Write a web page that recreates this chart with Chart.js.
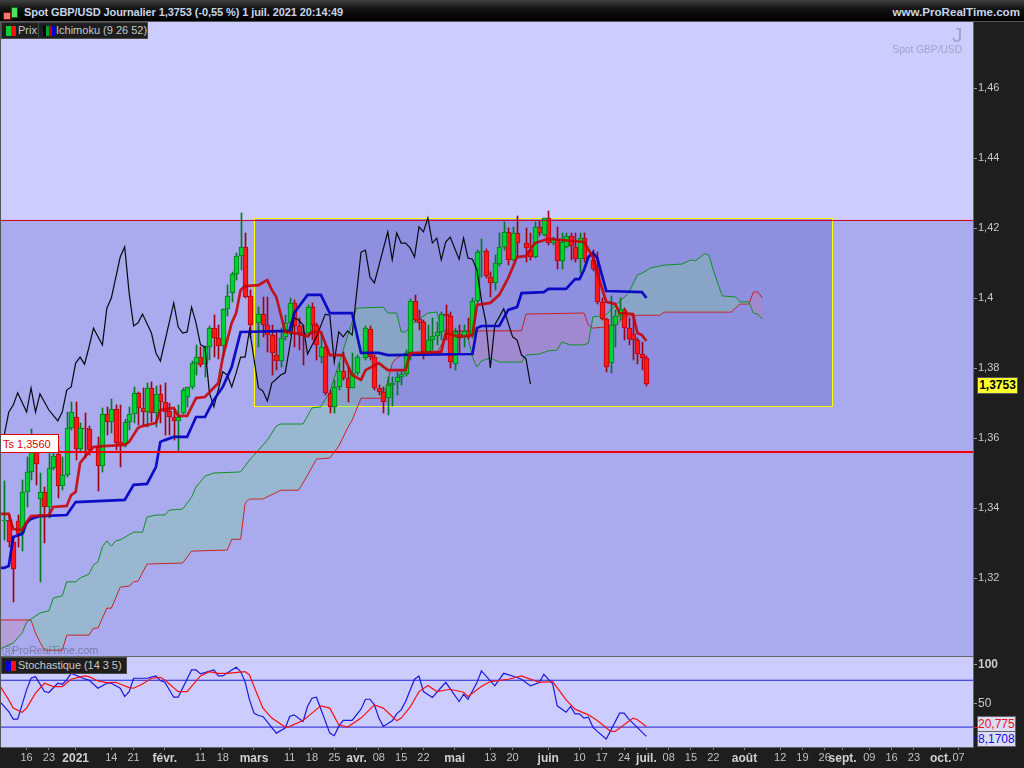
<!DOCTYPE html>
<html lang="fr">
<head>
<meta charset="utf-8">
<title>Spot GBP/USD</title>
<script src="https://cdn.jsdelivr.net/npm/chart.js@4/dist/chart.umd.js"></script>
<style>
    html, body { margin: 0; padding: 0; background: #1e1e1e; overflow: hidden; }
    body { width: 1024px; height: 768px; position: relative; font-family: "Liberation Sans", Arial, sans-serif; }
    canvas { position: absolute; left: 0; display: block; }
    #priceChart { top: 22px; }
    #stochChart { top: 657px; }
    .abs { position: absolute; white-space: nowrap; }
    #header { left: 0; top: 0; width: 1024px; height: 21px; border-bottom: 1px solid #555;
        background: linear-gradient(#404040, #111 45%, #000); }
    #title { left: 24px; top: 6px; font: bold 11px "Liberation Sans", Arial, sans-serif; color: #c6d6ea; letter-spacing: -.09px; }
    #site { right: 4px; top: 5px; font: bold 11.6px "Liberation Sans", Arial, sans-serif; color: #c6d6ea; }
    .tag { background: #1e1e1e; border: 1px solid #4a4a4a; color: #c8c8c8; font-size: 11px; line-height: 15px; height: 15px; box-sizing: content-box; }
    .sw { position: absolute; top: 3px; height: 10px; }
    .mark { color: #a3a3c6; }
    .val { left: 977px; width: 36px; text-align: right; font-size: 12px; line-height: 14px; height: 14px;
        border: 1px solid #666; background: #dcdcf4; padding-right: 1px; }
</style>
</head>
<body>
<canvas id="priceChart" width="1024" height="635"></canvas>
<canvas id="stochChart" width="1024" height="111"></canvas>

<div id="header" class="abs"></div>
<div class="abs" style="left:3px;top:12px;width:6px;height:6px;background:#f07878;border:1px solid #800"></div>
<div class="abs" style="left:11px;top:7px;width:5px;height:9px;background:#50e060;border:1px solid #060"></div>
<div id="title" class="abs">Spot GBP/USD Journalier 1,3753 (-0,55 %) 1 juil. 2021 20:14:49</div>
<div id="site" class="abs">www.ProRealTime.com</div>

<div class="abs tag" style="left:1px;top:22px;width:36px">
    <span class="sw" style="left:4px;width:5px;background:#00d030"></span>
    <span class="sw" style="left:9px;width:5px;background:#ff1010"></span>
    <span style="margin-left:16px">Prix</span>
</div>
<div class="abs tag" style="left:38px;top:22px;width:108px">
    <span class="sw" style="left:4px;width:3px;background:#000"></span>
    <span class="sw" style="left:7px;width:3px;background:#00a020"></span>
    <span class="sw" style="left:10px;width:3px;background:#c00000"></span>
    <span class="sw" style="left:13px;width:3px;background:#0000d0"></span>
    <span style="margin-left:17px">Ichimoku (9 26 52)</span>
</div>
<div class="abs mark" style="left:952px;top:24px;font-size:21px;line-height:22px">J</div>
<div class="abs mark" style="right:62px;top:44px;font-size:10.2px">Spot GBP/USD</div>

<div class="abs" style="left:0;top:434px;width:55px;height:17px;background:#fff;border:1px solid #e00000;color:#e00000;font-size:11px;line-height:18px;padding-left:2px">Ts 1,3560</div>
<div class="abs" style="left:977px;top:377px;width:39px;height:15px;background:#ffff30;border:1px solid #555;color:#000;font:bold 12px/15px 'Liberation Sans',Arial,sans-serif;text-align:center">1,3753</div>

<div class="abs" style="left:2px;top:644px;color:rgba(95,100,130,.65);font-size:11px">&#9415;</div>
<div class="abs" style="left:12px;top:644px;color:rgba(95,100,130,.65);font-size:11px;letter-spacing:-.08px">ProRealTime.com</div>
<div class="abs" style="left:1px;top:656px;width:972px;height:1px;background:#666"></div>
<div class="abs tag" style="left:1px;top:657px;width:124px">
    <span class="sw" style="left:4px;width:5px;background:#0000e0"></span>
    <span class="sw" style="left:9px;width:5px;background:#ff1010"></span>
    <span style="margin-left:16px;letter-spacing:-.05px">Stochastique (14 3 5)</span>
</div>
<div class="abs" style="left:974px;top:727px;width:3px;height:1px;background:#f01010"></div>
<div class="abs" style="left:974px;top:737px;width:3px;height:1px;background:#1010e0"></div>
<div class="abs val" style="top:716px;color:#f01010">20,775</div>
<div class="abs val" style="top:731px;color:#1010e0">8,1708</div>
<div class="abs" style="left:0;top:22px;width:1px;height:725px;background:#555"></div>

<script>
// daily candles, one slot per trading day, null = no bar drawn
const candleOpen = [
    1.3364, 1.3366, 1.3303, 1.3363, 1.3329, 1.3446, 1.3503, 1.3560, 1.3426, 1.3446,
    1.3403, 1.3514, 1.3554, 1.3463, 1.3494, 1.3629, 1.3660, 1.3569, 1.3629, 1.3626,
    null, 1.3574, 1.3520, 1.3669, 1.3646, 1.3683, 1.3589, 1.3583, 1.3646, 1.3669,
    1.3729, 1.3686, 1.3674, 1.3743, 1.3671, 1.3726, 1.3703, 1.3677, 1.3660, 1.3649,
    1.3671, 1.3717, 1.3746, 1.3814, 1.3831, 1.3811, 1.3860, 1.3914, 1.3886, 1.3863,
    1.3969, 1.4014, 1.4069, 1.4120, 1.4146, 1.4006, null, 1.3929, 1.3954, 1.3923,
    1.3894, 1.3837, 1.3820, 1.3889, 1.3929, 1.3986, 1.3920, 1.3900, 1.3900, 1.3974,
    1.3923, 1.3831, 1.3860, 1.3729, 1.3689, 1.3746, 1.3791, 1.3771, 1.3743, 1.3786,
    null, 1.3829, 1.3911, 1.3831, 1.3743, 1.3731, 1.3714, 1.3751, 1.3760, 1.3774,
    1.3783, 1.3843, 1.3991, 1.3940, 1.3931, 1.3846, 1.3880, 1.3891, 1.3903, 1.3954,
    1.3949, 1.3811, 1.3897, 1.3889, 1.3906, 1.3894, 1.3991, 1.4131, 1.4134, 1.4060,
    1.4043, 1.4097, 1.4146, 1.4189, 1.4109, 1.4186, null, 1.4157, 1.4137, 1.4117,
    1.4203, 1.4180, 1.4229, 1.4157, 1.4169, 1.4106, 1.4146, 1.4177, 1.4146, 1.4111,
    1.4171, null, 1.4109, 1.4083, 1.3989, 1.3940, 1.3814, 1.3923, 1.3949, 1.3966,
    1.3914, 1.3897, 1.3880, 1.3840, 1.3829
];
const candleHigh = [
    1.3477, 1.3380, 1.3320, 1.3380, 1.3480, 1.3546, 1.3626, 1.3580, 1.3500, 1.3460,
    1.3580, 1.3574, 1.3574, 1.3546, 1.3674, 1.3703, 1.3703, 1.3643, 1.3671, 1.3634,
    null, 1.3603, 1.3686, 1.3689, 1.3711, 1.3694, 1.3694, 1.3654, 1.3689, 1.3746,
    1.3731, 1.3743, 1.3757, 1.3760, 1.3749, 1.3751, 1.3757, 1.3700, 1.3683, 1.3694,
    1.3743, 1.3746, 1.3820, 1.3866, 1.3860, 1.3863, 1.3920, 1.3951, 1.3923, 1.3969,
    1.4037, 1.4074, 1.4129, 1.4243, 1.4186, 1.4023, null, 1.3974, 1.4003, 1.4003,
    1.3923, 1.3903, 1.3914, 1.3951, 1.4000, 1.3994, 1.3943, 1.3923, 1.3980, 1.3986,
    1.3929, 1.3900, 1.3866, 1.3737, 1.3766, 1.3814, 1.3846, 1.3803, 1.3843, 1.3837,
    null, 1.3920, 1.3920, 1.3837, 1.3751, 1.3746, 1.3774, 1.3774, 1.3789, 1.3794,
    1.3851, 1.3997, 1.4009, 1.3966, 1.3937, 1.3923, 1.3943, 1.3931, 1.3960, 1.3980,
    1.3960, 1.3914, 1.3923, 1.3923, 1.3943, 1.4000, 1.4137, 1.4169, 1.4140, 1.4074,
    1.4123, 1.4186, 1.4217, 1.4200, 1.4203, 1.4234, null, 1.4200, 1.4186, 1.4217,
    1.4220, 1.4229, 1.4249, 1.4174, 1.4203, 1.4186, 1.4186, 1.4186, 1.4186, 1.4186,
    1.4186, null, 1.4137, 1.4131, 1.4000, 1.3943, 1.4006, 1.3966, 1.4000, 1.3971,
    1.3943, 1.3946, 1.3886, 1.3874, 1.3834
];
const candleLow = [
    1.3309, 1.3289, 1.3131, 1.3289, 1.3277, 1.3403, 1.3480, 1.3466, 1.3189, 1.3300,
    1.3371, 1.3509, 1.3429, 1.3451, 1.3489, 1.3623, 1.3537, 1.3560, 1.3543, 1.3551,
    null, 1.3449, 1.3503, 1.3609, 1.3614, 1.3566, 1.3517, 1.3574, 1.3623, 1.3643,
    1.3637, 1.3637, 1.3631, 1.3646, 1.3631, 1.3643, 1.3609, 1.3609, 1.3594, 1.3563,
    1.3669, 1.3689, 1.3740, 1.3780, 1.3803, 1.3774, 1.3823, 1.3831, 1.3826, 1.3831,
    1.3949, 1.3989, 1.4051, 1.4080, 1.4000, 1.3886, null, 1.3860, 1.3889, 1.3846,
    1.3780, 1.3794, 1.3803, 1.3880, 1.3894, 1.3860, 1.3851, 1.3809, 1.3889, 1.3880,
    1.3823, 1.3814, 1.3723, 1.3671, 1.3671, 1.3737, 1.3766, 1.3703, 1.3743, 1.3780,
    null, 1.3823, 1.3823, 1.3737, 1.3723, 1.3671, 1.3666, 1.3691, 1.3723, 1.3751,
    1.3777, 1.3823, 1.3931, 1.3909, 1.3826, 1.3840, 1.3851, 1.3866, 1.3880, 1.3880,
    1.3800, 1.3794, 1.3843, 1.3860, 1.3883, 1.3886, 1.3986, 1.4060, 1.4057, 1.4003,
    1.4023, 1.4091, 1.4137, 1.4094, 1.4106, 1.4117, null, 1.4103, 1.4109, 1.4114,
    1.4177, 1.4177, 1.4151, 1.4151, 1.4083, 1.4083, 1.4143, 1.4109, 1.4103, 1.4071,
    1.4103, null, 1.4077, 1.3983, 1.3937, 1.3789, 1.3786, 1.3860, 1.3937, 1.3880,
    1.3866, 1.3823, 1.3811, 1.3794, 1.3749
];
const candleClose = [
    1.3366, 1.3303, 1.3226, 1.3326, 1.3446, 1.3503, 1.3560, 1.3526, 1.3446, 1.3403,
    1.3514, 1.3549, 1.3463, 1.3494, 1.3629, 1.3674, 1.3569, 1.3629, 1.3626, 1.3566,
    null, 1.3520, 1.3669, 1.3646, 1.3683, 1.3586, 1.3580, 1.3646, 1.3669, 1.3729,
    1.3686, 1.3674, 1.3743, 1.3671, 1.3726, 1.3703, 1.3674, 1.3660, 1.3649, 1.3660,
    1.3737, 1.3746, 1.3814, 1.3831, 1.3809, 1.3860, 1.3914, 1.3886, 1.3863, 1.3969,
    1.4006, 1.4069, 1.4120, 1.4146, 1.4003, 1.3923, null, 1.3954, 1.3923, 1.3894,
    1.3843, 1.3820, 1.3886, 1.3929, 1.3986, 1.3920, 1.3900, 1.3894, 1.3974, 1.3923,
    1.3866, 1.3860, 1.3729, 1.3689, 1.3746, 1.3791, 1.3771, 1.3743, 1.3786, 1.3831,
    null, 1.3914, 1.3831, 1.3743, 1.3731, 1.3703, 1.3751, 1.3757, 1.3774, 1.3783,
    1.3843, 1.3991, 1.3937, 1.3929, 1.3846, 1.3880, 1.3891, 1.3903, 1.3954, 1.3949,
    1.3817, 1.3903, 1.3886, 1.3906, 1.3889, 1.3991, 1.4131, 1.4134, 1.4063, 1.4043,
    1.4100, 1.4146, 1.4189, 1.4109, 1.4186, 1.4157, null, 1.4143, 1.4117, 1.4203,
    1.4186, 1.4229, 1.4157, 1.4169, 1.4106, 1.4160, 1.4177, 1.4149, 1.4111, 1.4171,
    1.4111, null, 1.4083, 1.3989, 1.3940, 1.3803, 1.3923, 1.3949, 1.3969, 1.3914,
    1.3883, 1.3880, 1.3840, 1.3829, 1.3753
];

const tenkanBar = [-1,0,1,2,4,5,6,10,11,14,15,16,17,19,20,22,27,28,30,31,34,35,38,39,41,43,45,48,49,51,52,53,54,57,59,60,61,63,65,68,69,71,73,76,78,80,81,84,86,90,91,98,99,102,105,106,109,111,113,115,117,119,122,130,132,133,135,137,138,141,142,143,144];
const tenkanVal = [1.3383,1.3383,1.3383,1.3340,1.3337,1.3360,1.3377,1.3380,1.3403,1.3406,1.3437,1.3446,1.3529,1.3560,1.3574,1.3577,1.3580,1.3589,1.3629,1.3634,1.3643,1.3680,1.3686,1.3663,1.3663,1.3714,1.3717,1.3757,1.3831,1.3929,1.3957,1.4023,1.4034,1.4037,1.4051,1.4023,1.4003,1.3903,1.3900,1.3891,1.3903,1.3903,1.3837,1.3837,1.3780,1.3766,1.3794,1.3814,1.3794,1.3794,1.3843,1.3846,1.3900,1.3889,1.3894,1.3980,1.3986,1.4009,1.4057,1.4117,1.4120,1.4157,1.4169,1.4160,1.4117,1.4071,1.3989,1.3983,1.3957,1.3954,1.3900,1.3894,1.3877];
const kijunBar = [-1,0,1,2,4,5,6,8,14,16,27,29,32,34,35,36,38,41,43,45,47,49,51,53,64,65,68,71,73,78,80,84,86,105,106,107,111,113,115,116,121,122,126,128,129,130,131,132,133,135,143,144];
const kijunVal = [1.3229,1.3229,1.3234,1.3317,1.3326,1.3357,1.3369,1.3377,1.3380,1.3417,1.3423,1.3466,1.3469,1.3517,1.3589,1.3594,1.3603,1.3603,1.3660,1.3660,1.3709,1.3746,1.3803,1.3903,1.3906,1.3957,1.4009,1.4009,1.3957,1.3957,1.3843,1.3843,1.3837,1.3840,1.3914,1.3920,1.3920,1.3966,1.3974,1.4014,1.4017,1.4026,1.4026,1.4054,1.4054,1.4080,1.4117,1.4129,1.4114,1.4020,1.4017,1.4000];
const chikouBar = [-1,0,1,2,3,5,6,7,8,10,12,13,14,15,16,17,18,19,20,22,23,24,26,27,28,29,30,31,33,34,35,38,39,40,41,42,43,44,45,46,47,49,50,51,52,53,54,55,57,58,59,60,62,63,64,65,66,67,68,70,72,73,74,75,76,77,78,80,81,82,83,86,87,88,89,90,91,92,93,94,95,96,97,98,99,100,102,103,104,105,106,107,108,109,110,112,114,115,116,117,118];
const chikouVal = [1.3594,1.3609,1.3674,1.3694,1.3729,1.3674,1.3743,1.3674,1.3726,1.3680,1.3649,1.3674,1.3737,1.3746,1.3814,1.3831,1.3811,1.3860,1.3914,1.3866,1.3971,1.4000,1.4117,1.4146,1.4014,1.3920,1.3929,1.3954,1.3900,1.3843,1.3820,1.3986,1.3917,1.3900,1.3903,1.3974,1.3929,1.3866,1.3860,1.3729,1.3689,1.3789,1.3780,1.3746,1.3786,1.3831,1.3831,1.3909,1.3743,1.3734,1.3706,1.3757,1.3780,1.3786,1.3860,1.3943,1.3937,1.3923,1.3840,1.3889,1.3954,1.3951,1.3817,1.3903,1.3889,1.3906,1.3894,1.4131,1.4137,1.4060,1.4043,1.4189,1.4109,1.4186,1.4157,1.4157,1.4143,1.4117,1.4203,1.4189,1.4229,1.4157,1.4171,1.4109,1.4160,1.4174,1.4111,1.4171,1.4114,1.4111,1.4080,1.3994,1.3931,1.3800,1.3923,1.3969,1.3889,1.3880,1.3837,1.3826,1.3754];
const senkouABar = [-1,0,2,4,5,6,8,10,11,13,14,16,17,19,20,21,22,23,24,25,26,29,31,32,34,36,37,40,42,43,45,47,53,55,56,59,61,62,67,69,71,73,76,79,85,86,88,89,90,92,95,97,98,103,104,105,106,107,109,111,116,117,120,122,124,125,127,130,131,132,135,136,140,142,143,145,148,152,154,155,157,158,159,161,164,165,167,168,169,170];
const senkouAVal = [1.2997,1.3003,1.3014,1.3043,1.3074,1.3083,1.3100,1.3106,1.3143,1.3149,1.3189,1.3189,1.3200,1.3211,1.3237,1.3246,1.3289,1.3306,1.3291,1.3306,1.3309,1.3331,1.3331,1.3374,1.3380,1.3380,1.3394,1.3397,1.3431,1.3460,1.3491,1.3500,1.3503,1.3537,1.3551,1.3594,1.3634,1.3640,1.3640,1.3686,1.3689,1.3731,1.3851,1.3971,1.3974,1.3957,1.3957,1.3903,1.3903,1.3931,1.3957,1.3960,1.3909,1.3903,1.3886,1.3831,1.3803,1.3820,1.3829,1.3817,1.3817,1.3837,1.3840,1.3849,1.3851,1.3874,1.3866,1.3866,1.3871,1.3946,1.3951,1.3966,1.4014,1.4066,1.4071,1.4086,1.4094,1.4097,1.4109,1.4106,1.4126,1.4123,1.4080,1.4006,1.4003,1.3989,1.3989,1.3957,1.3954,1.3940];
const senkouBBar = [-1,0,6,7,8,9,13,14,19,20,21,23,24,26,28,29,30,32,40,42,50,51,53,54,55,58,62,66,68,70,73,75,77,78,80,85,87,88,90,97,98,99,100,105,116,117,130,131,132,137,139,141,147,148,163,165,167,168,169,170];
const senkouBVal = [1.3080,1.3080,1.3080,1.3043,1.3017,1.2994,1.2994,1.3037,1.3037,1.3057,1.3057,1.3114,1.3114,1.3174,1.3177,1.3189,1.3191,1.3240,1.3243,1.3277,1.3280,1.3311,1.3311,1.3414,1.3426,1.3426,1.3451,1.3451,1.3494,1.3540,1.3543,1.3577,1.3629,1.3651,1.3714,1.3714,1.3814,1.3829,1.3843,1.3843,1.3866,1.3894,1.3906,1.3906,1.3906,1.3954,1.3957,1.3923,1.3914,1.3920,1.3946,1.3951,1.3951,1.3960,1.3960,1.3983,1.3983,1.4017,1.4017,1.4000];

// stochastic %K and %D
const stochKBar = [-1,1,2,3,5,6,7,9,10,12,13,14,15,18,19,21,23,24,26,27,28,29,32,34,35,36,38,39,42,43,44,47,48,49,51,52,53,54,55,56,57,58,61,63,64,65,67,68,69,70,73,74,75,76,78,80,81,82,83,84,85,87,88,89,90,92,93,94,96,99,102,103,104,106,107,110,112,114,116,118,120,121,123,124,126,127,128,129,130,131,132,133,135,138,139,140,144];
const stochKVal = [52.8,40.0,30.2,30.2,67.7,82.6,84.7,65.5,64.3,76.2,74.9,80.4,88.9,81.7,80.4,69.8,76.2,76.2,69.8,59.1,65.5,82.6,82.6,85.5,79.6,77.4,58.3,58.3,93.2,93.2,88.1,93.2,85.5,85.5,93.2,96.6,91.1,78.3,54.9,37.9,34.9,33.6,12.3,18.7,33.6,35.7,27.2,46.4,57.0,58.3,12.3,8.9,20.9,28.5,28.5,43.0,55.7,55.7,48.5,31.5,20.9,28.1,37.0,42.1,52.8,81.3,85.5,65.5,57.9,77.4,52.8,62.1,55.7,77.0,91.9,72.8,88.9,85.5,81.3,72.8,77.0,87.7,75.3,47.2,39.1,46.4,37.0,37.0,31.5,32.8,20.0,14.5,4.7,37.9,37.9,30.6,8.2];
const stochDBar = [-1,1,2,4,5,7,9,11,13,15,18,19,21,23,25,28,29,31,33,35,36,39,41,44,46,48,50,54,55,56,58,60,63,64,67,69,71,73,75,77,80,83,85,88,89,91,93,95,97,100,103,104,107,109,113,116,120,123,126,128,131,133,136,137,141,142,144];
const stochDVal = [72.8,54.9,44.3,39.1,44.3,63.4,76.2,71.9,71.9,81.3,85.5,84.7,79.1,77.0,77.4,70.6,69.8,75.3,82.6,83.8,80.4,65.5,65.5,85.5,91.1,88.9,88.9,91.1,86.8,71.9,44.3,31.5,20.0,20.9,28.5,37.9,47.2,44.3,23.0,20.0,31.5,48.5,44.3,28.1,31.5,45.5,65.5,73.2,65.5,68.5,64.7,59.1,71.9,78.3,81.3,85.5,77.4,78.3,54.9,43.0,35.7,28.5,14.5,14.5,31.5,29.4,20.8];

// levels and the drawn zone
const upperLevel = 1.42215;
const stopLevel = 1.356;
const zoneFromBar = 56.1, zoneToBar = 185.85, zoneTop = 1.4229, zoneBottom = 1.3691;

// axes
const priceTicks = [1.46, 1.44, 1.42, 1.4, 1.38, 1.36, 1.34, 1.32];
const stochTicks = [100, 50];
const stochLevels = [80, 20];
const dateTickBars = [5,10,16,24,29,36,44,49,56,64,69,74,79,84,89,94,101,109,114,122,129,134,139,144,149,154,159,166,174,179,184,188,194,199,204,210,214];
const dateTickText = ['16','23','2021','14','21','févr.','11','18','mars','11','18','25','avr.','08','15','22','mai','13','20','juin','10','17','24','juil.','08','15','22','août','12','19','26','sept.','09','16','23','oct.','07'];
const boldTicks = ['2021','févr.','mars','avr.','mai','juin','juil.','août','sept.','oct.'];

const xMin = -0.74, xMax = 217.25;
const fontName = '"Liberation Sans", Arial, sans-serif';

function pairs(bars, vals) {
    return bars.map((b, i) => ({ x: b, y: vals[i] }));
}

function lineSet(label, bars, vals, color, width, order, extra) {
    return Object.assign({
        type: 'line', label: label, data: pairs(bars, vals),
        borderColor: color, borderWidth: width, pointRadius: 0, tension: 0, fill: false, order: order
    }, extra || {});
}

function candleSets() {
    const bodyUp = [], bodyDown = [], wickUp = [], wickDown = [];
    candleOpen.forEach((o, i) => {
        if (o === null) return;
        const c = candleClose[i];
        const up = c >= o;
        (up ? bodyUp : bodyDown).push({ x: i, y: [o, c] });
        (up ? wickUp : wickDown).push({ x: i, y: [candleLow[i], candleHigh[i]] });
    });
    const bar = (label, data, fill, border, thick, bw, order) => ({
        type: 'bar', label: label, data: data, backgroundColor: fill, borderColor: border,
        borderWidth: bw, borderSkipped: false, barThickness: thick, grouped: false, order: order
    });
    return [
        bar('Mèches hausse', wickUp, '#007a1e', '#007a1e', 1, 0, 8),
        bar('Mèches baisse', wickDown, '#a00010', '#a00010', 1, 0, 8),
        bar('Hausse', bodyUp, '#00d030', '#007a1e', 5, 1, 7),
        bar('Baisse', bodyDown, '#ff1818', '#b80010', 5, 1, 7)
    ];
}

// plot backgrounds and the yellow zone, taken from the y and x scales
const backdrop = {
    id: 'backdrop',
    beforeDatasetsDraw(chart) {
        const { ctx, chartArea: a, scales: { x, y } } = chart;
        const yUp = Math.round(y.getPixelForValue(upperLevel));
        ctx.save();
        ctx.fillStyle = '#ccccff';
        ctx.fillRect(a.left, a.top, a.width, yUp - a.top);
        ctx.fillStyle = '#aaaaee';
        ctx.fillRect(a.left, yUp, a.width, a.bottom - yUp);
        const zx = Math.round(x.getPixelForValue(zoneFromBar)) + 0.5;
        const zw = Math.round(x.getPixelForValue(zoneToBar) - zx);
        const zy = Math.round(y.getPixelForValue(zoneTop)) + 0.5;
        const zh = Math.round(y.getPixelForValue(zoneBottom) - zy);
        ctx.fillStyle = '#8f8fe0';
        ctx.fillRect(zx, zy, zw, zh);
        ctx.strokeStyle = '#ffff00';
        ctx.lineWidth = 1;
        ctx.strokeRect(zx, zy, zw, zh);
        ctx.restore();

        // snap the candles to whole pixels so they stay crisp
        chart.getSortedVisibleDatasetMetas().filter(m => m.type === 'bar').forEach(m => {
            m.data.forEach(el => {
                el.x = Math.round(el.x) + 0.5;
                el.y = Math.round(el.y);
                el.base = Math.round(el.base);
                if (el.y === el.base) el.base = el.y + 1;
            });
        });
    }
};

const stochBack = {
    id: 'stochBack',
    beforeDatasetsDraw(chart) {
        const { ctx, chartArea: a } = chart;
        ctx.save();
        ctx.fillStyle = '#ccccff';
        ctx.fillRect(a.left, a.top, a.width, a.height);
        ctx.restore();
    }
};

const priceDatasets = [
    lineSet('Senkou B', senkouBBar, senkouBVal, '#d01010', 1, 11),
    lineSet('Senkou A', senkouABar, senkouAVal, '#109020', 1, 10, {
        fill: { target: 0, above: 'rgba(120,210,150,0.32)', below: 'rgba(210,120,150,0.25)' }
    }),
    ...candleSets(),
    lineSet('Chikou', chikouBar, chikouVal, '#080810', 1.2, 5),
    lineSet('Kijun', kijunBar, kijunVal, 'rgba(0,0,195,0.92)', 2.7, 4),
    lineSet('Tenkan', tenkanBar, tenkanVal, 'rgba(200,0,0,0.88)', 2.7, 3),
    lineSet('Niveau', [xMin, xMax], [upperLevel, upperLevel], '#d00020', 1, 6),
    lineSet('Ts', [xMin, xMax], [stopLevel, stopLevel], '#f00000', 2, 2)
];

const baseOptions = {
    responsive: false, animation: false, devicePixelRatio: 1,
    layout: { padding: { left: 1, right: 0, top: 0, bottom: 0 } },
    plugins: { legend: { display: false }, tooltip: { enabled: false }, title: { display: false } }
};

const isBold = ctx => !!ctx.tick && boldTicks.includes(ctx.tick.label);

function fitY(s) {
    s.width = 51;
    s.paddingTop = 0;
    s.paddingBottom = 0;
}

new Chart(document.getElementById('priceChart'), {
    type: 'bar',
    data: { datasets: priceDatasets },
    options: Object.assign({}, baseOptions, {
        scales: {
            x: { type: 'linear', display: false, min: xMin, max: xMax, offset: false, grid: { offset: false } },
            y: {
                type: 'linear', position: 'right', min: 1.29743, max: 1.47886,
                afterFit: fitY,
                afterBuildTicks: s => { s.ticks = priceTicks.map(v => ({ value: v })); },
                border: { color: '#666', width: 1 },
                grid: { drawOnChartArea: false, color: '#999', tickLength: 4 },
                ticks: {
                    color: '#c8c8c8', font: { family: fontName, size: 11 }, padding: 1,
                    callback: v => String(v).replace('.', ',')
                }
            }
        }
    }),
    plugins: [backdrop]
});

new Chart(document.getElementById('stochChart'), {
    type: 'line',
    data: {
        datasets: [
            lineSet('Haut', [xMin, xMax], [stochLevels[0], stochLevels[0]], '#2020d0', 1, 3),
            lineSet('Bas', [xMin, xMax], [stochLevels[1], stochLevels[1]], '#2020d0', 1, 3),
            lineSet('%K', stochKBar, stochKVal, '#1818e0', 1.2, 2),
            lineSet('%D', stochDBar, stochDVal, '#f81010', 1.2, 1)
        ]
    },
    options: Object.assign({}, baseOptions, {
        scales: {
            x: {
                type: 'linear', position: 'bottom', min: xMin, max: xMax,
                afterFit: s => { s.height = 21; s.paddingLeft = 0; s.paddingRight = 0; },
                afterBuildTicks: s => { s.ticks = dateTickBars.map(v => ({ value: v })); },
                border: { color: '#666', width: 1 },
                grid: { drawOnChartArea: false, color: '#888', tickLength: 3 },
                ticks: {
                    autoSkip: false, maxRotation: 0, minRotation: 0, padding: 1,
                    color: ctx => isBold(ctx) ? '#d0d0d0' : '#c0c0c0',
                    font: ctx => isBold(ctx)
                        ? { family: fontName, size: 12, weight: 'bold' }
                        : { family: fontName, size: 11 },
                    callback: v => dateTickText[dateTickBars.indexOf(v)]
                }
            },
            y: {
                type: 'linear', position: 'right', min: -5.5, max: 109.8,
                afterFit: fitY,
                afterBuildTicks: s => { s.ticks = stochTicks.map(v => ({ value: v })); },
                border: { color: '#666', width: 1 },
                grid: { drawOnChartArea: false, color: '#999', tickLength: 4 },
                ticks: {
                    color: '#c8c8c8', padding: 1,
                    font: ctx => (ctx.tick && ctx.tick.value === 100)
                        ? { family: fontName, size: 12, weight: 'bold' }
                        : { family: fontName, size: 12 }
                }
            }
        }
    }),
    plugins: [stochBack]
});
</script>
</body>
</html>
